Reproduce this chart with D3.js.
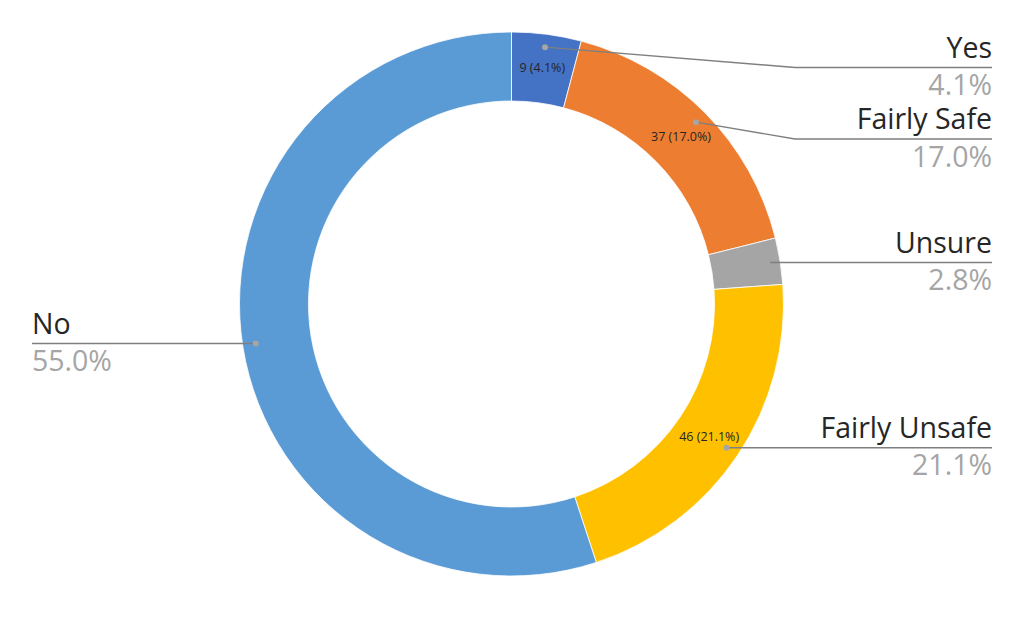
<!DOCTYPE html>
<html><head><meta charset="utf-8">
<script src="https://cdn.jsdelivr.net/npm/d3@7"></script>
<style>body{margin:0;background:#fff}svg{display:block}</style>
</head><body>
<svg id="c" width="1024" height="633"></svg>
<script>
const categories = ["Yes", "Fairly Safe", "Unsure", "Fairly Unsafe", "No"];
const counts = [9, 37, 6, 46, 120];
const percentLabels = ["4.1%", "17.0%", "2.8%", "21.1%", "55.0%"];
const innerLabels = ["9 (4.1%)", "37 (17.0%)", null, "46 (21.1%)", null];
const colors = ["#4472C4", "#ED7D31", "#A5A5A5", "#FFC000", "#5B9BD5"];
// label layout (underline y, side)
const labelLineY = [67.5, 139, 262.5, 447.8, 343.5];
const labelSide = ["right", "right", "right", "right", "left"];

const W = 1024, H = 633;
const cx = 511.5, cy = 304, rOuter = 272, rInner = 203;
const svg = d3.select("#c");
const g = svg.append("g").attr("transform", `translate(${cx},${cy})`);

const pie = d3.pie().sort(null).value(d => d)(counts);
const arc = d3.arc().innerRadius(rInner).outerRadius(rOuter);

g.selectAll("path.slice").data(pie).join("path")
  .attr("class", "slice")
  .attr("d", arc)
  .attr("fill", (d, i) => colors[i])
  .attr("stroke", "#fff").attr("stroke-width", 0.8);

const dotArc = d3.arc().innerRadius(259).outerRadius(259);
const lblArc = d3.arc().innerRadius(238).outerRadius(238);
const rightX = 992, leftX = 32, elbowX = 795;
const lineColor = "#7F7F7F";
const font = "'Open Sans', sans-serif";

pie.forEach((d, i) => {
  const [dx, dy] = dotArc.centroid(d);
  const px = cx + dx, py = cy + dy;
  const ly = labelLineY[i];
  let pts;
  if (labelSide[i] === "right") {
    if (Math.abs(py - ly) > 3) pts = [[px, py], [elbowX, ly], [rightX, ly]];
    else pts = [[px, ly], [rightX, ly]];
  } else {
    pts = [[px, ly], [leftX, ly]];
  }
  svg.append("path").attr("d", d3.line()(pts))
    .attr("fill", "none").attr("stroke", lineColor).attr("stroke-width", 1.4);
  svg.append("circle").attr("cx", pts[0][0]).attr("cy", pts[0][1]).attr("r", 3)
    .attr("fill", "#A5A5A5");
  const anchor = labelSide[i] === "right" ? "end" : "start";
  const tx = labelSide[i] === "right" ? rightX : leftX;
  svg.append("text").attr("x", tx).attr("y", ly - 10)
    .attr("text-anchor", anchor).attr("font-family", font)
    .attr("font-size", 28.5).attr("fill", "#262626").text(categories[i]);
  svg.append("text").attr("x", tx).attr("y", ly + 27.5)
    .attr("text-anchor", anchor).attr("font-family", font)
    .attr("font-size", 28.5).attr("fill", "#A5A5A5").text(percentLabels[i]);
  if (innerLabels[i]) {
    const [lx, lyy] = lblArc.centroid(d);
    svg.append("text").attr("x", cx + lx).attr("y", cy + lyy)
      .attr("dy", "0.35em").attr("text-anchor", "middle")
      .attr("font-family", font).attr("font-size", 12.5)
      .attr("fill", "#262626").text(innerLabels[i]);
  }
});
</script>
</body></html>
